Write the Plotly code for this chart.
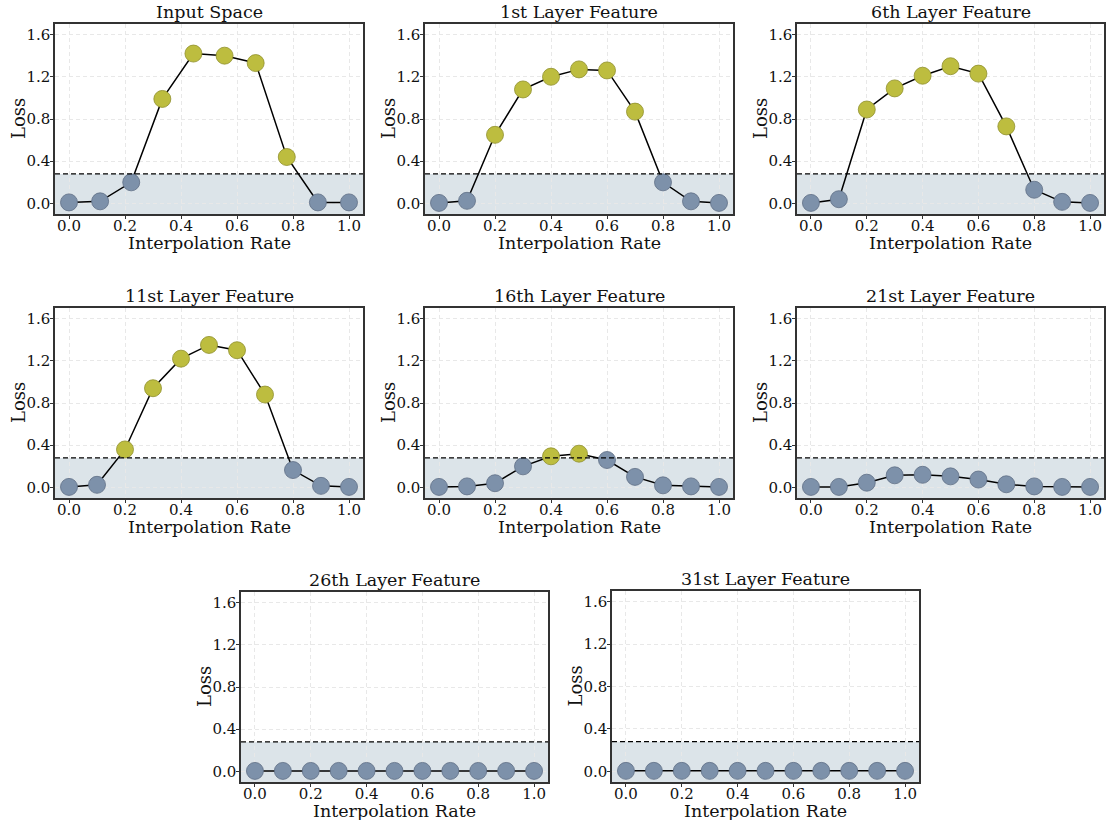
import plotly.graph_objects as go

titles = ["Input Space", "1st Layer Feature", "6th Layer Feature",
          "11st Layer Feature", "16th Layer Feature", "21st Layer Feature",
          "26th Layer Feature", "31st Layer Feature"]

x_input = [0.0, 1/9, 2/9, 3/9, 4/9, 5/9, 6/9, 7/9, 8/9, 1.0]
x_layer = [0.0, 0.1, 0.2, 0.3, 0.4, 0.5, 0.6, 0.7, 0.8, 0.9, 1.0]

loss_input = [0.01, 0.02, 0.20, 0.99, 1.42, 1.40, 1.33, 0.44, 0.01, 0.01]
loss_l1 = [0.005, 0.025, 0.65, 1.08, 1.20, 1.27, 1.26, 0.87, 0.20, 0.02, 0.005]
loss_l6 = [0.005, 0.04, 0.89, 1.09, 1.21, 1.30, 1.23, 0.73, 0.13, 0.015, 0.005]
loss_l11 = [0.005, 0.025, 0.36, 0.94, 1.22, 1.35, 1.30, 0.88, 0.165, 0.015, 0.005]
loss_l16 = [0.005, 0.01, 0.04, 0.20, 0.295, 0.32, 0.26, 0.10, 0.02, 0.01, 0.005]
loss_l21 = [0.005, 0.005, 0.045, 0.115, 0.12, 0.105, 0.075, 0.03, 0.01, 0.005, 0.005]
loss_l26 = [0.005, 0.005, 0.005, 0.005, 0.005, 0.005, 0.005, 0.005, 0.005, 0.005, 0.005]
loss_l31 = [0.005, 0.005, 0.005, 0.005, 0.005, 0.005, 0.005, 0.005, 0.005, 0.005, 0.005]

threshold = 0.28

xs = [x_input] + [x_layer] * 7
ys = [loss_input, loss_l1, loss_l6, loss_l11, loss_l16, loss_l21, loss_l26, loss_l31]

x_ticks = [0.0, 0.2, 0.4, 0.6, 0.8, 1.0]
y_ticks = [0.0, 0.4, 0.8, 1.2, 1.6]

W, H = 1107, 820
# plot-area pixel boxes (left, right, top, bottom)
boxes = [(55, 363, 24, 214), (425, 733, 24, 214), (797, 1104, 24, 214),
         (55, 363, 308, 498), (425, 733, 308, 498), (797, 1104, 308, 498),
         (241, 548, 592, 782), (612, 919, 591, 782)]

BLUE = "#7d91aa"
OLIVE = "#bdbd3f"
SHADE = "#dce4e9"
FONT = "DejaVu Serif"
TXT = "#111"

fig = go.Figure()
layout = dict(width=W, height=H, margin=dict(l=0, r=0, t=0, b=0),
              paper_bgcolor="white", plot_bgcolor="white", showlegend=False,
              font=dict(family=FONT, color=TXT))
shapes = []
annotations = []

for i, (xv, yv) in enumerate(zip(xs, ys)):
    n = i + 1
    sx = "" if n == 1 else str(n)
    l, r, t, b = boxes[i]
    colors = [OLIVE if v > threshold else BLUE for v in yv]
    edges = ["#8f8f2c" if v > threshold else "#5f6f85" for v in yv]
    fig.add_trace(go.Scatter(
        x=xv, y=yv, mode="lines+markers", xaxis="x" + sx, yaxis="y" + sx,
        line=dict(color="black", width=1.5),
        marker=dict(size=17, color=colors, line=dict(color=edges, width=0.8)),
        cliponaxis=False))
    axcommon = dict(showline=True, mirror=True, linecolor="#333", linewidth=1.5,
                    ticks="outside", ticklen=3, tickcolor="#333", tickwidth=1,
                    showgrid=True, gridcolor="#e8e8e8", griddash="4px,3px", gridwidth=0.8,
                    zeroline=False, tickfont=dict(size=15, family=FONT, color=TXT))
    layout["xaxis" + sx] = dict(axcommon, domain=[l / W, r / W], anchor="y" + sx,
                                range=[-0.05, 1.05], tickvals=x_ticks,
                                ticktext=["%.1f" % v for v in x_ticks],
                                ticklabelstandoff=-6)
    layout["yaxis" + sx] = dict(axcommon, domain=[1 - b / H, 1 - t / H], anchor="x" + sx,
                                range=[-0.1, 1.7], tickvals=y_ticks,
                                ticktext=["%.1f" % v for v in y_ticks],
                                ticklabelstandoff=-3)
    shapes.append(dict(type="rect", xref="x%s domain" % sx, yref="y" + sx,
                       x0=0, x1=1, y0=-0.1, y1=threshold, fillcolor=SHADE,
                       line=dict(width=0), layer="below"))
    shapes.append(dict(type="line", xref="x%s domain" % sx, yref="y" + sx,
                       x0=0, x1=1, y0=threshold, y1=threshold,
                       line=dict(color="black", width=1.3, dash="5px,3px"), layer="above"))
    annotations.append(dict(text=titles[i], xref="paper", yref="paper",
                            x=(l + r) / 2 / W, y=1 - t / H, xanchor="center",
                            yanchor="bottom", yshift=0, showarrow=False,
                            font=dict(size=17.5, family=FONT, color=TXT)))
    annotations.append(dict(text="Interpolation Rate", xref="paper", yref="paper",
                            x=(l + r) / 2 / W, y=1 - (b + 18) / H, xanchor="center",
                            yanchor="top", showarrow=False, borderpad=0,
                            font=dict(size=17.5, family=FONT, color=TXT)))
    annotations.append(dict(text="Loss", xref="paper", yref="paper",
                            x=(l - 37) / W, y=1 - (t + b) / 2 / H, xanchor="center",
                            yanchor="middle", textangle=-90, showarrow=False,
                            font=dict(size=18, family=FONT, color=TXT)))

layout["shapes"] = shapes
layout["annotations"] = annotations
fig.update_layout(**layout)
fig.write_html("out.html")
